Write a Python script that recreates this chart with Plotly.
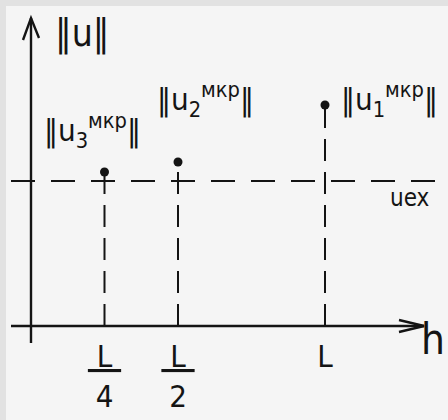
import plotly.graph_objects as go

# Step positions (in units of L) and the norms of the finite-difference solutions
h_values = [0.25, 0.5, 1.0]
h_labels = ["<u>\u00a0L\u00a0</u><br>4", "<u>\u00a0L\u00a0</u><br>2", "L"]
norm_values = [1.062, 1.131, 1.524]
point_labels = [
    "‖u<sub>3</sub><sup>мкр</sup>‖",
    "‖u<sub>2</sub><sup>мкр</sup>‖",
    "‖u<sub>1</sub><sup>мкр</sup>‖",
]
u_exact = 1.0

INK = "#141414"
FONT = "DejaVu Sans Condensed, Liberation Sans Narrow, Lato, sans-serif"

# figure geometry (pixels)
W, H = 448, 420
ML, MR, MT, MB = 11, 3, 10, 75
PW, PH = W - ML - MR, H - MT - MB
X0_PX, X_UNIT = 31, 294      # pixel of h = 0 and pixels per L
Y0_PX, Y_UNIT = 326, 145     # pixel of norm = 0 and pixels per unit norm


def xd(px):
    return (px - X0_PX) / X_UNIT


def yd(py):
    return (Y0_PX - py) / Y_UNIT


def xp(px):
    return (px - ML) / PW


def yp(py):
    return (H - MB - py) / PH


fig = go.Figure()

# dashed drop lines from each point to the h axis
for hv, nv in zip(h_values, norm_values):
    fig.add_trace(go.Scatter(
        x=[hv, hv], y=[0, nv], mode="lines",
        line=dict(color=INK, width=2, dash="22px,11px"),
        hoverinfo="skip", showlegend=False,
    ))

# the points themselves
fig.add_trace(go.Scatter(
    x=h_values, y=norm_values, mode="markers",
    marker=dict(color=INK, size=9),
    showlegend=False,
))

shapes = [
    # frame strips
    dict(type="rect", xref="paper", yref="paper", layer="below",
         x0=xp(0), x1=xp(W), y0=yp(0), y1=yp(6),
         fillcolor="#e2e2e2", line=dict(width=0)),
    dict(type="rect", xref="paper", yref="paper", layer="below",
         x0=xp(0), x1=xp(6), y0=yp(0), y1=yp(H),
         fillcolor="#e2e2e2", line=dict(width=0)),
    # exact solution level
    dict(type="line", xref="paper", yref="y", x0=0, x1=1,
         y0=u_exact, y1=u_exact,
         line=dict(color=INK, width=2, dash="24px,16px")),
    # axes
    dict(type="line", xref="x", yref="y", x0=0, x1=0,
         y0=yd(343), y1=yd(18), line=dict(color=INK, width=2.4)),
    dict(type="line", xref="x", yref="y", x0=xd(11), x1=xd(424),
         y0=0, y1=0, line=dict(color=INK, width=2.4)),
    # arrowheads
    dict(type="path", xref="x", yref="y", xsizemode="pixel", ysizemode="pixel",
         xanchor=0, yanchor=yd(18), path="M -8,-22 L 0,0 L 8,-20",
         line=dict(color=INK, width=2.4)),
    dict(type="path", xref="x", yref="y", xsizemode="pixel", ysizemode="pixel",
         xanchor=xd(424), yanchor=0, path="M -25,6 L 0,0 L -25,-6",
         line=dict(color=INK, width=2.4)),
]

annotations = [
    dict(x=xd(53), y=yd(33), text="‖u‖", xanchor="left", yanchor="middle",
         font=dict(size=37)),
    dict(x=xd(42), y=yd(130), text=point_labels[0], xanchor="left",
         yanchor="middle", font=dict(size=31)),
    dict(x=xd(155), y=yd(99), text=point_labels[1], xanchor="left",
         yanchor="middle", font=dict(size=31)),
    dict(x=xd(339), y=yd(99), text=point_labels[2], xanchor="left",
         yanchor="middle", font=dict(size=31)),
    dict(x=xd(410), y=yd(198), text="uex", xanchor="center",
         yanchor="middle", font=dict(size=24)),
    dict(x=xd(433), y=yd(339), text="h", xanchor="center", yanchor="middle",
         font=dict(size=42)),
]
for a in annotations:
    a.update(xref="x", yref="y", showarrow=False)
    a["font"].update(color=INK, family=FONT)

fig.update_layout(
    width=W, height=H,
    margin=dict(l=ML, r=MR, t=MT, b=MB, pad=0, autoexpand=False),
    paper_bgcolor="#f5f5f5", plot_bgcolor="rgba(0,0,0,0)",
    shapes=shapes, annotations=annotations,
    xaxis=dict(range=[xd(ML), xd(W - MR)], showgrid=False, zeroline=False,
               showline=False, tickmode="array", tickvals=h_values,
               ticktext=h_labels, ticks="", automargin=False,
               ticklabelstandoff=-10,
               tickfont=dict(size=31, color=INK, family=FONT)),
    yaxis=dict(range=[yd(H - MB), yd(MT)], showgrid=False, zeroline=False,
               showline=False, showticklabels=False, ticks="",
               automargin=False),
    font=dict(family=FONT, color=INK),
)

fig.write_html("out.html")
